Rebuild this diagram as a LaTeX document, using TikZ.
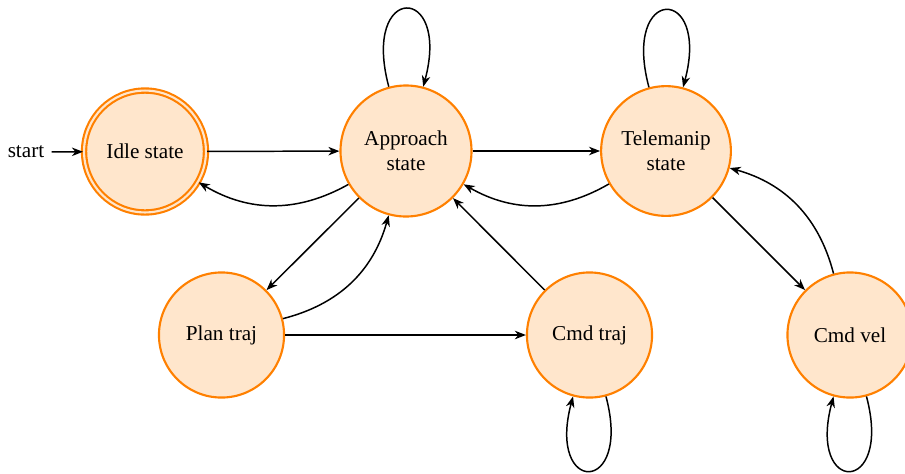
\documentclass[tikz,border=0pt]{standalone}
\usepackage{fontspec}
\setmainfont{Liberation Serif}
\usetikzlibrary{arrows.meta,automata}
\definecolor{stroke}{RGB}{255,128,0}
\begin{document}
\begin{tikzpicture}[x=0.4717pt,y=-0.4717pt,
  statenode/.style={circle,draw=stroke,fill=stroke!20,line width=1pt,inner sep=0pt,font=\fontsize{10}{12}\selectfont,align=center},
  acceptnode/.style={statenode,double=stroke!20,double distance=1pt},
  edge/.style={-{Stealth[length=5.2pt,width=4pt,inset=1.6pt]},line width=0.7pt,black},
  every loop/.style={}]
\clip (0,0) rectangle (905,473);
\node[acceptnode,minimum size=57.5pt] (idle) at (145,151.5) {Idle state};
\node[statenode,minimum size=61.8pt] (app) at (406,151) {Approach\\state};
\node[statenode,minimum size=61.2pt] (tel) at (666,151) {Telemanip\\state};
\node[statenode,minimum size=59pt] (plan) at (221.5,335) {Plan traj};
\node[statenode,minimum size=59pt] (cmdt) at (589.5,335) {Cmd traj};
\node[statenode,minimum size=59pt] (cmdv) at (850,335) {Cmd vel};
\node[font=\fontsize{10}{12}\selectfont,inner sep=3.3pt] (start) at (26,152) {start};

\draw[edge] (start) -- (idle);
\draw[edge] (idle) -- (app);
\draw[edge] (app) to[bend left] (idle);
\draw[edge] (app) -- (tel);
\draw[edge] (tel) to[bend left] (app);
\draw[edge] (app) to[loop above] (app);
\draw[edge] (tel) to[loop above] (tel);
\draw[edge] (app) -- (plan);
\draw[edge] (plan) to[bend right] (app);
\draw[edge] (plan) -- (cmdt);
\draw[edge] (cmdt) -- (app);
\draw[edge] (cmdt) to[loop below] (cmdt);
\draw[edge] (tel) -- (cmdv);
\draw[edge] (cmdv) to[bend right] (tel);
\draw[edge] (cmdv) to[loop below] (cmdv);
\end{tikzpicture}
\end{document}
